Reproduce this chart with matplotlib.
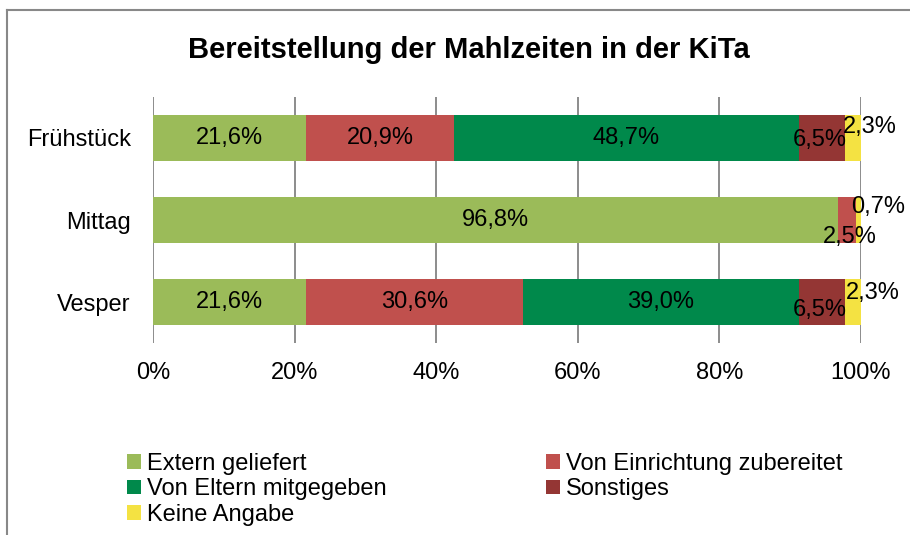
import matplotlib
matplotlib.use("Agg")
import matplotlib.pyplot as plt
from matplotlib.patches import Patch
from matplotlib.lines import Line2D
import numpy as np

plt.rcParams['font.family'] = ['Liberation Sans', 'DejaVu Sans']

categories = ["Frühstück", "Mittag", "Vesper"]
series_names = ["Extern geliefert", "Von Einrichtung zubereitet", "Von Eltern mitgegeben",
                "Sonstiges", "Keine Angabe"]
extern = [21.6, 96.8, 21.6]
einrichtung = [20.9, 2.5, 30.6]
eltern = [48.7, 0.0, 39.0]
sonstiges = [6.5, 0.0, 6.5]
keine = [2.3, 0.7, 2.3]
tick_values = [0, 20, 40, 60, 80, 100]
tick_labels = ["0%", "20%", "40%", "60%", "80%", "100%"]

colors = ["#9BBB59", "#C0504D", "#00894B", "#943634", "#F4E242"]
series = [extern, einrichtung, eltern, sonstiges, keine]

# manual label adjustments (dx, dy in data units) for small segments
label_adjust = {
    (0, 3): (-0.25, 0.025), (0, 4): (2.4, -0.134),
    (1, 1): (0.4, 0.207), (1, 4): (2.75, -0.159),
    (2, 3): (-0.25, 0.098), (2, 4): (2.85, -0.11),
}

fig = plt.figure(figsize=(9.1, 5.35), dpi=100)
ax = fig.add_axes([153/910, 1-343/535, (861-153)/910, (343-97)/535])

y = np.arange(len(categories))
left = np.zeros(len(categories))
for si, (vals, col) in enumerate(zip(series, colors)):
    vals = np.array(vals)
    ax.barh(y, vals, left=left, height=0.57, color=col, zorder=3)
    for ci, v in enumerate(vals):
        if v <= 0:
            continue
        cx = left[ci] + v / 2
        cy = y[ci]
        dx, dy = label_adjust.get((ci, si), (0, 0))
        ax.text(cx + dx, cy + dy, f"{v:.1f}%".replace(".", ","), ha="center", va="center",
                fontsize=17, color="black", zorder=5)
    left += vals

ax.set_xlim(0, 100)
ax.set_ylim(2.5, -0.5)
ax.set_yticks(y)
ax.set_yticklabels(categories, fontsize=17)
ax.set_xticks(tick_values)
ax.set_xticklabels(tick_labels, fontsize=17)
ax.tick_params(axis='x', length=0, pad=14)
ax.tick_params(axis='y', length=0, pad=16)
ax.xaxis.grid(True, color="#8c8c8c", linewidth=1.4, zorder=0)
for s in ax.spines.values():
    s.set_visible(False)

fig.text(469/910, 1-58/535, "Bereitstellung der Mahlzeiten in der KiTa", ha="center",
         va="baseline", fontsize=21, fontweight="bold")

# chart border
fig.add_artist(Line2D([7/910, 1.0], [1-10/535, 1-10/535], transform=fig.transFigure,
                      color="#888888", linewidth=1.5))
fig.add_artist(Line2D([7/910, 7/910], [1-10/535, 0], transform=fig.transFigure,
                      color="#888888", linewidth=1.5))

order = [0, 2, 4, 1, 3]
handles = [Patch(facecolor=colors[i], edgecolor="none") for i in order]
labels = [series_names[i] for i in order]
fig.legend(handles, labels, ncol=2, loc="upper left", bbox_to_anchor=(127/910, 1-453/535),
           frameon=False, fontsize=17, handlelength=0.59, handleheight=0.59, handletextpad=0.25,
           labelspacing=0.14, columnspacing=6.77, borderpad=0, borderaxespad=0)

fig.savefig("out.png", dpi=100)
